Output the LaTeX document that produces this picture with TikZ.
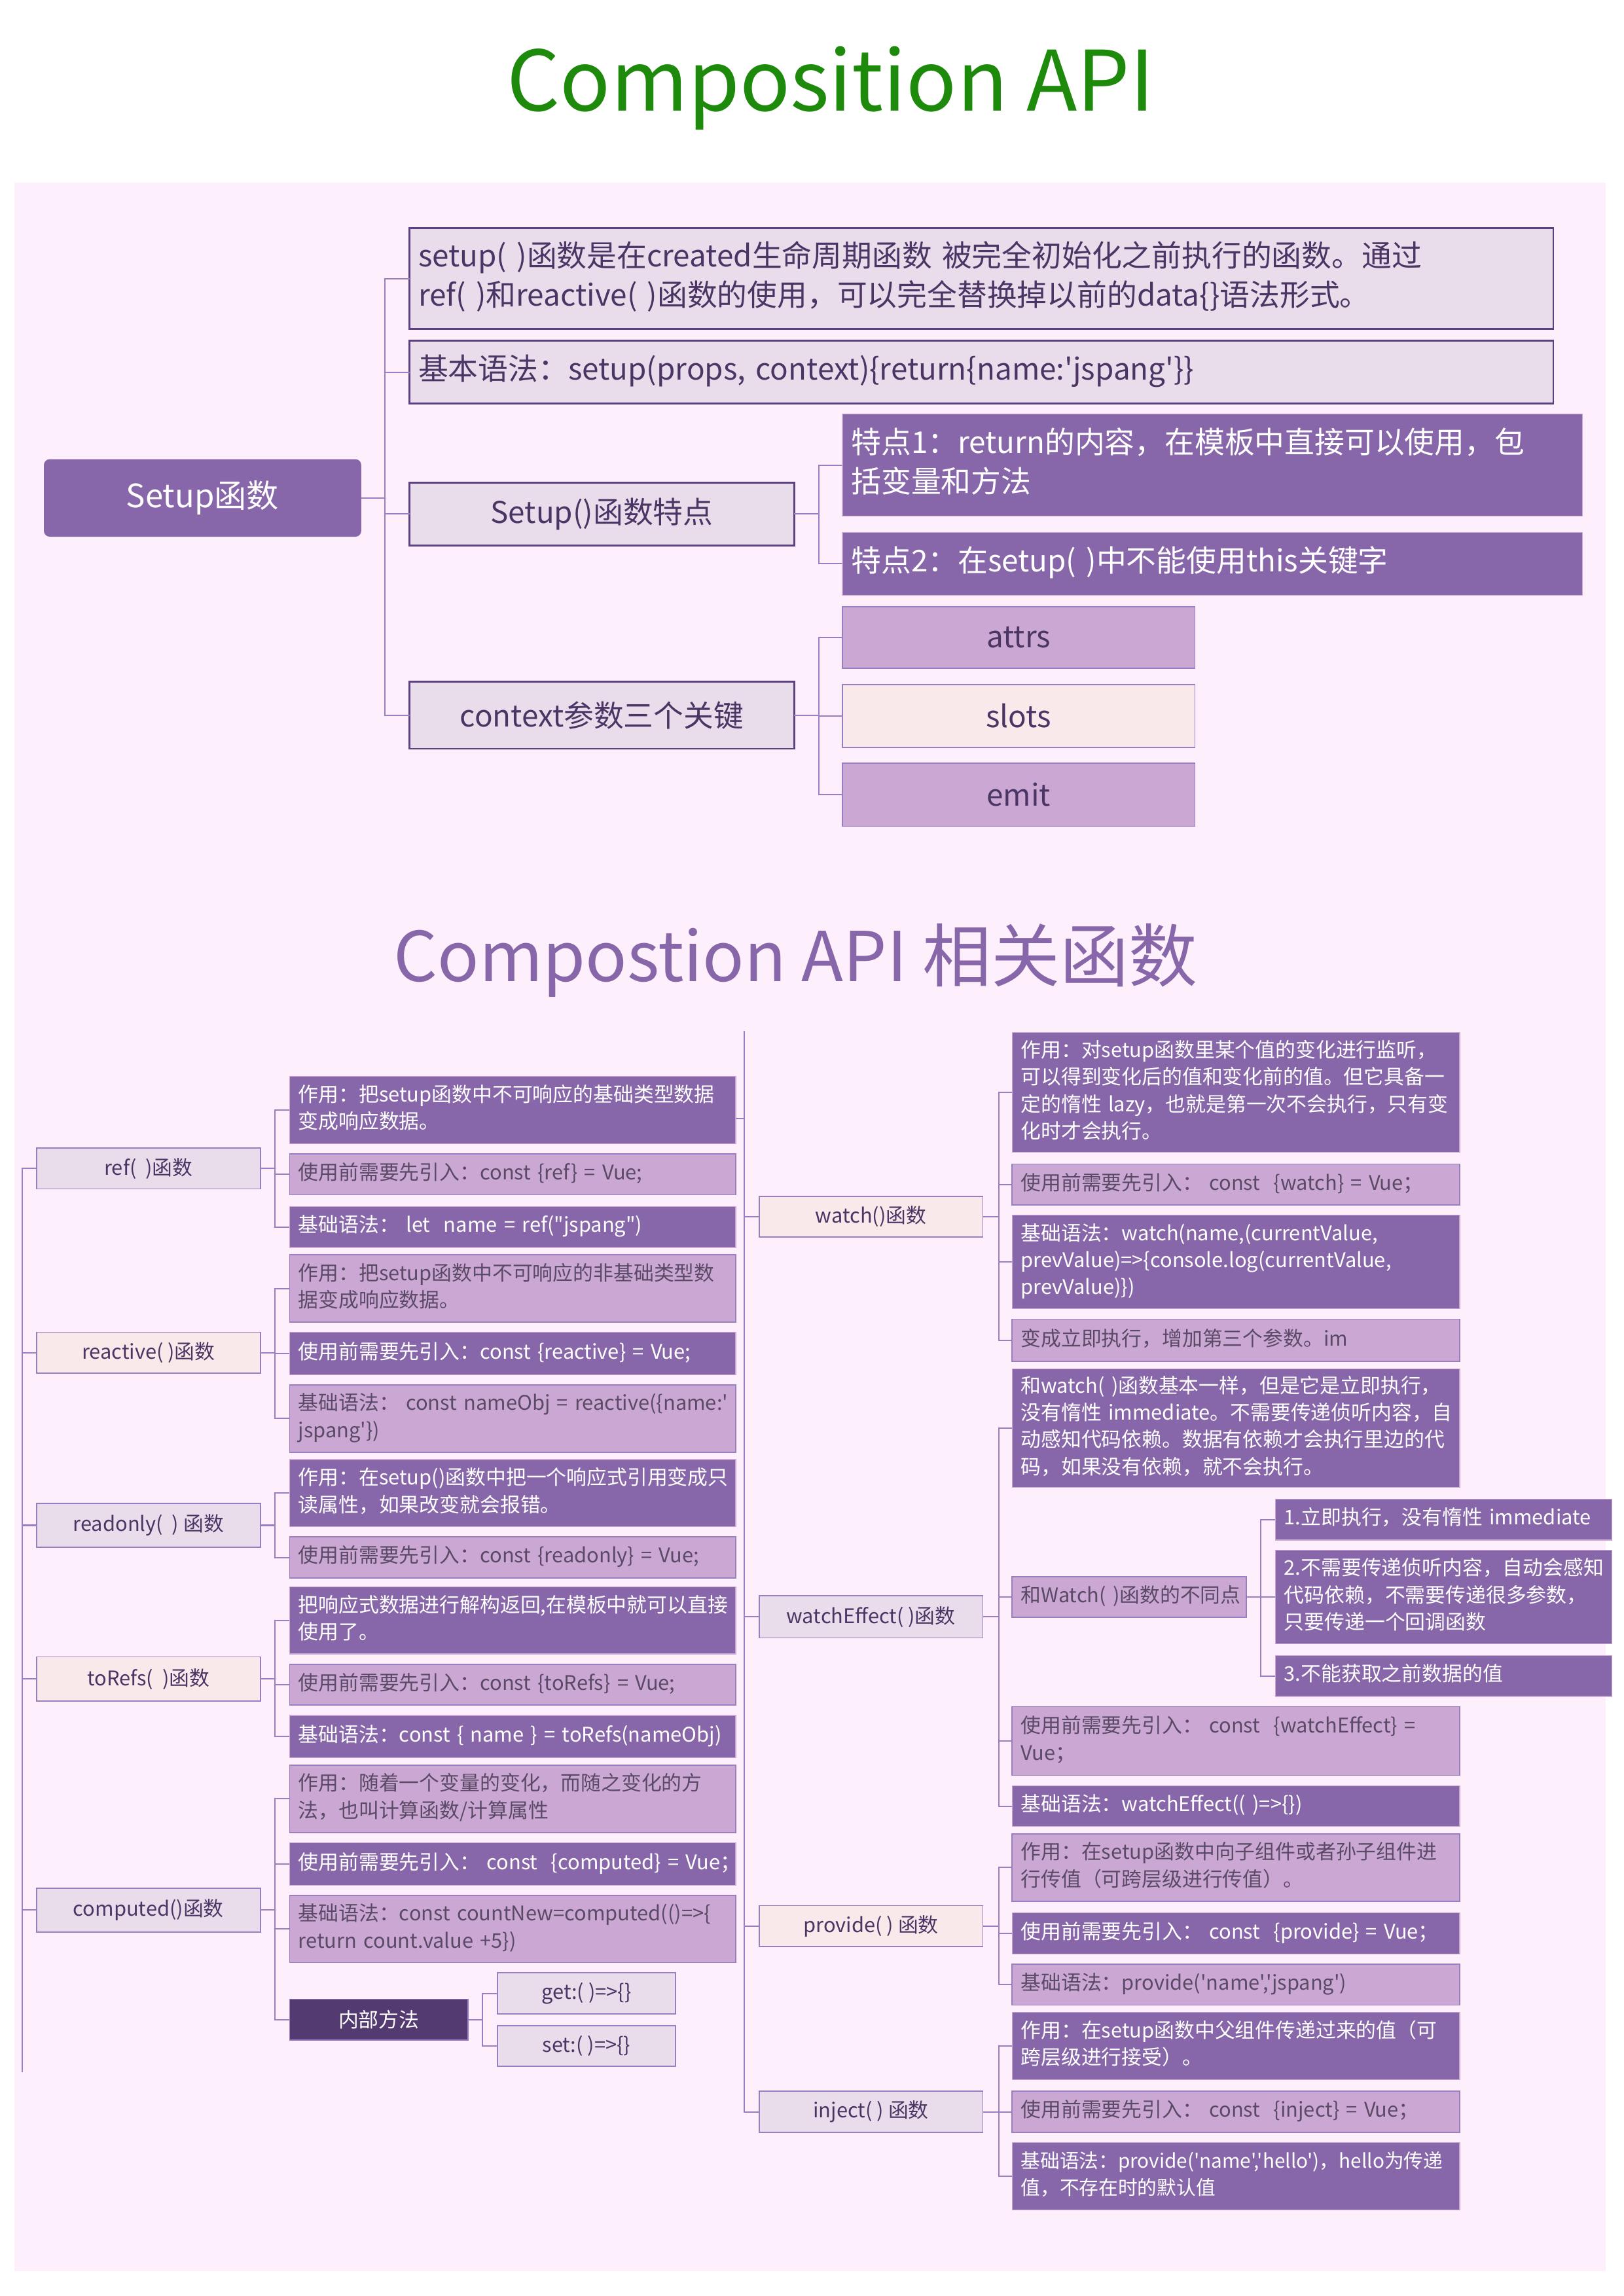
\documentclass[tikz,border=0pt]{standalone}
\usepackage{fontspec}
\newfontfamily\cjk{Noto Sans CJK SC}
\definecolor{bgpink}{HTML}{FDF0FC}
\definecolor{deep}{HTML}{8767A9}
\definecolor{soft}{HTML}{CBA8D3}
\definecolor{lav}{HTML}{EADDEB}
\definecolor{blush}{HTML}{F9E9EB}
\definecolor{night}{HTML}{533A71}
\definecolor{edge}{HTML}{5B4181}
\definecolor{wirec}{HTML}{9A7EC2}
\definecolor{ink}{HTML}{4B3565}
\definecolor{dim}{HTML}{5A4A66}
\definecolor{leaf}{HTML}{1E8A0C}
\newcommand\boxlines[1]{\begin{tabular}{@{}l@{}}#1\end{tabular}}
\begin{document}
\begin{tikzpicture}[x=1pt, y=-1pt,
        every node/.style={font=\cjk\fontsize{13.8}{18.5}\selectfont, inner sep=0pt, outer sep=0pt, anchor=north west},
        lbox/.style 2 args={minimum width=#1pt, minimum height=#2pt, text width=#1pt-12pt, inner xsep=6pt},
        cbox/.style 2 args={minimum width=#1pt, minimum height=#2pt, align=center},
        big/.style={font=\cjk\fontsize{20.5}{27}\selectfont},
        deepbox/.style={fill=deep, draw=soft, line width=0.6pt, text=white},
        softbox/.style={fill=soft, draw=wirec, line width=0.8pt, text=dim},
        lavbox/.style={fill=lav, draw=wirec, line width=0.8pt, text=ink},
        blushbox/.style={fill=blush, draw=wirec, line width=0.8pt, text=ink},
        nightbox/.style={fill=night, draw=wirec, line width=0.8pt, text=white},
        topbox/.style={fill=lav, draw=edge, line width=1.3pt, text=ink},
        wire/.style={draw=wirec, line width=0.9pt}]
        \useasboundingbox (0,0) rectangle (1110,1570);
        \fill[bgpink] (10,125) rectangle (1098,1553);

        % titles
        \node[anchor=base, text=leaf, font=\cjk\fontsize{57}{57}\selectfont] (title) at (568,76) {Composition API};
        \node[anchor=base, text=deep, font=\cjk\fontsize{47}{47}\selectfont] (title2) at (544,671) {Compostion API 相关函数};

        % setup part
        \node[cbox={217}{53}, fill=deep, text=white, rounded corners=4pt, font=\cjk\fontsize{22}{26}\selectfont] (setup) at (30,314) {Setup函数};
        \node[lbox={782}{69}, topbox, big] (s1) at (280,156) {\boxlines{setup( )函数是在created生命周期函数 被完全初始化之前执行的函数。通过\\ref( )和reactive( )函数的使用，可以完全替换掉以前的data\{\}语法形式。}};
        \node[lbox={782}{43}, topbox, big] (s2) at (280,233) {\boxlines{基本语法：setup(props, context)\{return\{name:'jspang'\}\}}};
        \node[cbox={263}{43}, topbox, big] (s3) at (280,330) {Setup()函数特点};
        \node[cbox={263}{46}, topbox, big] (s4) at (280,466) {context参数三个关键};
        \node[lbox={506}{70}, deepbox, big] (t1) at (576,283) {\boxlines{特点1：return的内容，在模板中直接可以使用，包\\括变量和方法}};
        \node[lbox={506}{43}, deepbox, big] (t2) at (576,364) {\boxlines{特点2：在setup( )中不能使用this关键字}};
        \node[cbox={241}{42}, softbox, big, text=ink] (k1) at (576,415) {attrs};
        \node[cbox={241}{43}, blushbox, big] (k2) at (576,468) {slots};
        \node[cbox={241}{43}, softbox, big, text=ink] (k3) at (576,522) {emit};

        \draw[wire] (setup.east) -- ++(16,0) |- (s1.west) (setup.east) -- ++(16,0) |- (s2.west)
            (setup.east) -- ++(16,0) |- (s3.west) (setup.east) -- ++(16,0) |- (s4.west);
        \draw[wire] (s3.east) -- ++(17,0) |- (t1.west) (s3.east) -- ++(17,0) |- (t2.west);
        \draw[wire] (s4.east) -- ++(17,0) |- (k1.west) (s4.east) -- ++(17,0) |- (k2.west) (s4.east) -- ++(17,0) |- (k3.west);

        % left column
        \coordinate (lroot) at (15,1417);
        \node[cbox={153}{28}, lavbox] (ref) at (25,785) {ref(\ \ )函数};
        \node[cbox={153}{28}, blushbox] (reactive) at (25,911) {reactive( )函数};
        \node[cbox={153}{30}, lavbox] (readonly) at (25,1028) {readonly(\ \ ) 函数};
        \node[cbox={153}{30}, blushbox] (torefs) at (25,1133) {toRefs(\ \ )函数};
        \node[cbox={153}{30}, lavbox] (computed) at (25,1291) {computed()函数};

        \node[lbox={305}{46}, deepbox] (ref1) at (198,736) {\boxlines{作用：把setup函数中不可响应的基础类型数据\\变成响应数据。}};
        \node[lbox={305}{28}, softbox] (ref2) at (198,789) {\boxlines{使用前需要先引入：const \{ref\} = Vue;}};
        \node[lbox={305}{28}, deepbox] (ref3) at (198,825) {\boxlines{基础语法：\ let \ name = ref("jspang")}};

        \node[lbox={305}{46}, softbox] (rea1) at (198,858) {\boxlines{作用：把setup函数中不可响应的非基础类型数\\据变成响应数据。}};
        \node[lbox={305}{29}, deepbox] (rea2) at (198,911) {\boxlines{使用前需要先引入：const \{reactive\} = Vue;}};
        \node[lbox={305}{46}, softbox] (rea3) at (198,947) {\boxlines{基础语法：\ const nameObj = reactive(\{name:'\\jspang'\})}};

        \node[lbox={305}{46}, deepbox] (rdo1) at (198,998) {\boxlines{作用：在setup()函数中把一个响应式引用变成只\\读属性，如果改变就会报错。}};
        \node[lbox={305}{28}, softbox] (rdo2) at (198,1051) {\boxlines{使用前需要先引入：const \{readonly\} = Vue;}};

        \node[lbox={305}{46}, deepbox] (tor1) at (198,1085) {\boxlines{把响应式数据进行解构返回,在模板中就可以直接\\使用了。}};
        \node[lbox={305}{28}, softbox] (tor2) at (198,1138) {\boxlines{使用前需要先引入：const \{toRefs\} = Vue;}};
        \node[lbox={305}{29}, deepbox] (tor3) at (198,1173) {\boxlines{基础语法：const \{ name \} = toRefs(nameObj)}};

        \node[lbox={305}{46}, softbox] (com1) at (198,1207) {\boxlines{作用：随着一个变量的变化，而随之变化的方\\法，也叫计算函数/计算属性}};
        \node[lbox={305}{29}, deepbox] (com2) at (198,1260) {\boxlines{使用前需要先引入：\ const \ \{computed\} = Vue；}};
        \node[lbox={305}{46}, softbox] (com3) at (198,1296) {\boxlines{基础语法：const countNew=computed(()=>\{\\return count.value +5\})}};
        \node[cbox={122}{28}, nightbox] (inner) at (198,1367) {内部方法};
        \node[cbox={122}{28}, lavbox] (getter) at (340,1349) {get:( )=>\{\}};
        \node[cbox={122}{28}, lavbox] (setter) at (340,1385) {set:( )=>\{\}};

        \draw[wire] (lroot) |- (ref.west) (lroot) |- (reactive.west) (lroot) |- (readonly.west)
            (lroot) |- (torefs.west) (lroot) |- (computed.west);
        \draw[wire] (ref.east) -- ++(10,0) |- (ref1.west) (ref.east) -- ++(10,0) |- (ref2.west) (ref.east) -- ++(10,0) |- (ref3.west);
        \draw[wire] (reactive.east) -- ++(10,0) |- (rea1.west) (reactive.east) -- ++(10,0) |- (rea2.west) (reactive.east) -- ++(10,0) |- (rea3.west);
        \draw[wire] (readonly.east) -- ++(10,0) |- (rdo1.west) (readonly.east) -- ++(10,0) |- (rdo2.west);
        \draw[wire] (torefs.east) -- ++(10,0) |- (tor1.west) (torefs.east) -- ++(10,0) |- (tor2.west) (torefs.east) -- ++(10,0) |- (tor3.west);
        \draw[wire] (computed.east) -- ++(10,0) |- (com1.west) (computed.east) -- ++(10,0) |- (com2.west)
            (computed.east) -- ++(10,0) |- (com3.west) (computed.east) -- ++(10,0) |- (inner.west);
        \draw[wire] (inner.east) -- ++(10,0) |- (getter.west) (inner.east) -- ++(10,0) |- (setter.west);

        % middle column
        \coordinate (mroot) at (509,705);
        \node[cbox={153}{28}, blushbox] (watch) at (519,818) {watch()函数};
        \node[cbox={153}{29}, lavbox] (weffect) at (519,1091) {watchEffect( )函数};
        \node[cbox={153}{28}, blushbox] (provide) at (519,1303) {provide( ) 函数};
        \node[cbox={153}{28}, lavbox] (inject) at (519,1430) {inject( ) 函数};

        \node[lbox={306}{82}, deepbox] (wat1) at (692,706) {\boxlines{作用：对setup函数里某个值的变化进行监听，\\可以得到变化后的值和变化前的值。但它具备一\\定的惰性 lazy，也就是第一次不会执行，只有变\\化时才会执行。}};
        \node[lbox={306}{28}, softbox] (wat2) at (692,796) {\boxlines{使用前需要先引入：\ const \ \{watch\} = Vue；}};
        \node[lbox={306}{64}, deepbox] (wat3) at (692,831) {\boxlines{基础语法：watch(name,(currentValue,\\prevValue)=>\{console.log(currentValue,\\prevValue)\})}};
        \node[lbox={306}{29}, softbox] (wat4) at (692,902) {\boxlines{变成立即执行，增加第三个参数。im}};

        \node[lbox={306}{81}, deepbox] (eff1) at (692,936) {\boxlines{和watch( )函数基本一样，但是它是立即执行，\\没有惰性 immediate。不需要传递侦听内容，自\\动感知代码依赖。数据有依赖才会执行里边的代\\码，如果没有依赖，就不会执行。}};
        \node[lbox={160}{28}, softbox] (eff2) at (692,1078) {\boxlines{和Watch( )函数的不同点}};
        \node[lbox={230}{28}, deepbox] (diff1) at (872,1025) {\boxlines{1.立即执行，没有惰性 immediate}};
        \node[lbox={230}{64}, deepbox] (diff2) at (872,1060) {\boxlines{2.不需要传递侦听内容，自动会感知\\代码依赖，不需要传递很多参数，\\只要传递一个回调函数}};
        \node[lbox={230}{28}, deepbox] (diff3) at (872,1132) {\boxlines{3.不能获取之前数据的值}};
        \node[lbox={306}{47}, softbox] (eff3) at (692,1167) {\boxlines{使用前需要先引入：\ const \ \{watchEffect\} =\\Vue；}};
        \node[lbox={306}{28}, deepbox] (eff4) at (692,1221) {\boxlines{基础语法：watchEffect(( )=>\{\})}};

        \node[lbox={306}{46}, softbox] (pro1) at (692,1254) {\boxlines{作用：在setup函数中向子组件或者孙子组件进\\行传值（可跨层级进行传值）。}};
        \node[lbox={306}{28}, deepbox] (pro2) at (692,1308) {\boxlines{使用前需要先引入：\ const \ \{provide\} = Vue；}};
        \node[lbox={306}{28}, softbox] (pro3) at (692,1343) {\boxlines{基础语法：provide('name','jspang')}};

        \node[lbox={306}{46}, deepbox] (inj1) at (692,1376) {\boxlines{作用：在setup函数中父组件传递过来的值（可\\跨层级进行接受）。}};
        \node[lbox={306}{28}, softbox] (inj2) at (692,1430) {\boxlines{使用前需要先引入：\ const \ \{inject\} = Vue；}};
        \node[lbox={306}{46}, deepbox, font=\cjk\fontsize{13.3}{18.5}\selectfont] (inj3) at (692,1465) {\boxlines{基础语法：provide('name','hello')，hello为传递\\值，不存在时的默认值}};

        \draw[wire] (mroot) |- (watch.west) (mroot) |- (weffect.west) (mroot) |- (provide.west) (mroot) |- (inject.west);
        \draw[wire] (ref1.east) ++(0,6) -- ++(6,0);
        \draw[wire] (watch.east) -- ++(11,0) |- (wat1.west) (watch.east) -- ++(11,0) |- (wat2.west)
            (watch.east) -- ++(11,0) |- (wat3.west) (watch.east) -- ++(11,0) |- (wat4.west);
        \draw[wire] (weffect.east) -- ++(11,0) |- (eff1.west) (weffect.east) -- ++(11,0) |- (eff2.west)
            (weffect.east) -- ++(11,0) |- (eff3.west) (weffect.east) -- ++(11,0) |- (eff4.west);
        \draw[wire] (eff2.east) -- ++(10,0) |- (diff1.west) (eff2.east) -- ++(10,0) |- (diff2.west) (eff2.east) -- ++(10,0) |- (diff3.west);
        \draw[wire] (provide.east) -- ++(11,0) |- (pro1.west) (provide.east) -- ++(11,0) |- (pro2.west) (provide.east) -- ++(11,0) |- (pro3.west);
        \draw[wire] (inject.east) -- ++(11,0) |- (inj1.west) (inject.east) -- ++(11,0) |- (inj2.west) (inject.east) -- ++(11,0) |- (inj3.west);
    \end{tikzpicture}
\end{document}
